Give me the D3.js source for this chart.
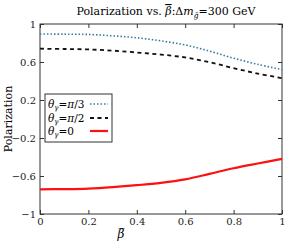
<!DOCTYPE html>
<html>
<head>
<meta charset="utf-8">
<script src="https://cdn.jsdelivr.net/npm/d3@7"></script>
<style>
  body { margin: 0; background: #fff; }
  svg, svg text, svg tspan { font-family: "DejaVu Serif", "Liberation Serif", serif !important; }
</style>
</head>
<body>
<div id="chart"></div>
<script>
// values
const betaValues = [0, 0.1, 0.2, 0.3, 0.4, 0.5, 0.6, 0.7, 0.8, 0.9, 1.0];
const polPiThird = [0.895, 0.893, 0.89, 0.875, 0.855, 0.822, 0.78, 0.715, 0.64, 0.575, 0.52];
const polPiHalf = [0.74, 0.737, 0.732, 0.72, 0.70, 0.678, 0.648, 0.598, 0.535, 0.478, 0.43];
const polZero = [-0.74, -0.738, -0.732, -0.717, -0.697, -0.672, -0.635, -0.578, -0.518, -0.468, -0.42];
const xTicks = [0, 0.2, 0.4, 0.6, 0.8, 1];
const yTicks = [-1, -0.6, -0.2, 0.2, 0.6, 1];

const width = 285, height = 245;
const margin = {top: 24, right: 3, bottom: 31, left: 40};

const svg = d3.select('#chart').append('svg')
  .attr('width', width).attr('height', height);

const x = d3.scaleLinear().domain([0, 1]).range([margin.left, width - margin.right]);
const y = d3.scaleLinear().domain([-1, 1]).range([height - margin.bottom, margin.top]);

const fmt = d => d === 0 ? '0' : (d < 0 ? '\u2212' : '') + String(Math.abs(d));

// axes, ticks pointing inward on all sides
const axisStyle = g => {
  g.select('.domain').remove();
  g.selectAll('.tick line').attr('stroke', '#333');
  g.selectAll('.tick text').attr('font-size', 10).attr('fill', '#222');
};

svg.append('g').attr('transform', 'translate(0,' + y(-1) + ')')
  .call(d3.axisBottom(x).tickValues(xTicks).tickSize(-4).tickPadding(4).tickFormat(fmt))
  .call(axisStyle);
svg.append('g').attr('transform', 'translate(0,' + y(1) + ')')
  .call(d3.axisTop(x).tickValues(xTicks).tickSize(-4).tickFormat(''))
  .call(axisStyle);
svg.append('g').attr('transform', 'translate(' + x(0) + ',0)')
  .call(d3.axisLeft(y).tickValues(yTicks).tickSize(-4).tickPadding(4).tickFormat(fmt))
  .call(axisStyle);
svg.append('g').attr('transform', 'translate(' + x(1) + ',0)')
  .call(d3.axisRight(y).tickValues(yTicks).tickSize(-4).tickFormat(''))
  .call(axisStyle);

svg.append('rect')
  .attr('x', x(0)).attr('y', y(1))
  .attr('width', x(1) - x(0)).attr('height', y(-1) - y(1))
  .attr('fill', 'none').attr('stroke', '#333').attr('stroke-width', 1);

const series = [
  {vals: polPiThird, color: '#3a7aa0', dash: '1.5,2', w: 1.6, label: '\u03c0/3'},
  {vals: polPiHalf, color: '#111', dash: '4,3.5', w: 1.8, label: '\u03c0/2'},
  {vals: polZero, color: '#ff1010', dash: null, w: 2.2, label: '0'}
];

const line = d3.line()
  .x((d, i) => x(betaValues[i]))
  .y(d => y(d))
  .curve(d3.curveCatmullRom.alpha(0.5));

series.forEach(s => {
  svg.append('path')
    .attr('d', line(s.vals))
    .attr('fill', 'none')
    .attr('stroke', s.color)
    .attr('stroke-width', s.w)
    .attr('stroke-dasharray', s.dash);
});

// legend
const legend = svg.append('g').attr('transform', 'translate(45,94)');
legend.append('rect')
  .attr('width', 67).attr('height', 48)
  .attr('fill', '#fff').attr('stroke', '#333').attr('stroke-width', 1);

const rowY = [10, 24, 37];
series.forEach((s, i) => {
  const t = legend.append('text').attr('x', 3).attr('y', rowY[i] + 4).attr('font-size', 10.5);
  t.append('tspan').attr('font-style', 'italic').text('\u03b8');
  t.append('tspan').attr('font-style', 'italic').attr('font-size', 7).attr('dy', 2).text('\u03b3');
  t.append('tspan').attr('dy', -2).text('=');
  t.append('tspan').attr('font-style', s.label === '0' ? 'normal' : 'italic').text(s.label.charAt(0));
  if (s.label.length > 1) t.append('tspan').text(s.label.slice(1));
  legend.append('line')
    .attr('x1', 45).attr('x2', 63)
    .attr('y1', rowY[i]).attr('y2', rowY[i])
    .attr('stroke', s.color).attr('stroke-width', s.w)
    .attr('stroke-dasharray', s.dash);
});

// title
const title = svg.append('text')
  .attr('x', 166).attr('y', 15)
  .attr('text-anchor', 'middle').attr('font-size', 11);
title.append('tspan').text('Polarization vs. ');
title.append('tspan').attr('font-style', 'italic').attr('text-decoration', 'overline').text('\u03b2');
title.append('tspan').text(':\u0394');
title.append('tspan').attr('font-style', 'italic').text('m');
title.append('tspan').attr('font-style', 'italic').attr('font-size', 7.5).attr('dy', 3).text('g\u0303');
title.append('tspan').attr('dy', -3).text('=300 GeV');

// axis labels
svg.append('text')
  .attr('transform', 'translate(12,' + ((y(1) + y(-1)) / 2) + ') rotate(-90)')
  .attr('text-anchor', 'middle').attr('font-size', 11)
  .text('Polarization');

svg.append('text')
  .attr('x', 121).attr('y', 238)
  .attr('text-anchor', 'middle').attr('font-size', 12)
  .attr('font-style', 'italic')
  .text('\u03b2\u0305');
</script>
</body>
</html>
